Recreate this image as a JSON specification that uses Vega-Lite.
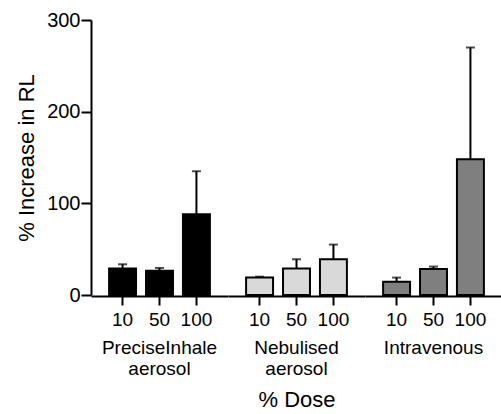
{
  "$schema": "https://vega.github.io/schema/vega-lite/v6.json",
  "padding": {"left": 15, "top": 10, "right": 0, "bottom": 0},
  "background": "white",
  "data": {
    "values": [
      {"group": "PreciseInhale aerosol", "dose": "10", "value": 29, "upper": 33.5},
      {"group": "PreciseInhale aerosol", "dose": "50", "value": 26.5, "upper": 29.5},
      {"group": "PreciseInhale aerosol", "dose": "100", "value": 88, "upper": 135},
      {"group": "Nebulised aerosol", "dose": "10", "value": 19, "upper": 20},
      {"group": "Nebulised aerosol", "dose": "50", "value": 29, "upper": 39},
      {"group": "Nebulised aerosol", "dose": "100", "value": 39, "upper": 55},
      {"group": "Intravenous", "dose": "10", "value": 14.5, "upper": 19},
      {"group": "Intravenous", "dose": "50", "value": 28.5, "upper": 31},
      {"group": "Intravenous", "dose": "100", "value": 148, "upper": 270}
    ]
  },
  "facet": {
    "column": {
      "field": "group",
      "type": "nominal",
      "sort": ["PreciseInhale aerosol", "Nebulised aerosol", "Intravenous"],
      "header": {
        "labelOrient": "bottom",
        "titleOrient": "bottom",
        "title": "% Dose",
        "labelExpr": "split(datum.value, ' ')",
        "labelFont": "Liberation Sans",
        "labelFontSize": 19,
        "labelColor": "black",
        "labelLineHeight": 21,
        "labelPadding": 10,
        "titleFont": "Liberation Sans",
        "titleFontSize": 22,
        "titleFontWeight": "normal",
        "titleColor": "black",
        "titlePadding": 1
      }
    }
  },
  "spacing": 0,
  "spec": {
    "width": 137,
    "height": 275,
    "encoding": {
      "x": {
        "field": "dose",
        "type": "ordinal",
        "sort": ["10", "50", "100"],
        "scale": {"paddingInner": 0.27, "paddingOuter": 0.49},
        "axis": {"title": null, "labelAngle": 0, "labelPadding": 5, "labelFontSize": 19}
      }
    },
    "layer": [
      {
        "mark": {"type": "bar", "stroke": "black", "strokeWidth": 2},
        "encoding": {
          "y": {
            "field": "value",
            "type": "quantitative",
            "scale": {"domain": [0, 300], "nice": false},
            "axis": {"values": [0, 100, 200, 300], "title": "% Increase in RL", "titlePadding": 8, "tickSize": 10, "labelPadding": 1}
          },
          "fill": {
            "field": "group",
            "type": "nominal",
            "scale": {"domain": ["PreciseInhale aerosol", "Nebulised aerosol", "Intravenous"], "range": ["#000000", "#d9d9d9", "#7f7f7f"]},
            "legend": null
          }
        }
      },
      {
        "mark": {"type": "rule", "color": "black", "strokeWidth": 2},
        "encoding": {
          "y": {"field": "value", "type": "quantitative"},
          "y2": {"field": "upper"}
        }
      },
      {
        "mark": {"type": "tick", "color": "black", "thickness": 2, "size": 9, "orient": "horizontal"},
        "encoding": {
          "y": {"field": "upper", "type": "quantitative"}
        }
      }
    ]
  },
  "config": {
    "view": {"stroke": null},
    "axis": {
      "grid": false,
      "domainColor": "black",
      "domainWidth": 2,
      "tickColor": "black",
      "tickWidth": 2,
      "tickSize": 9,
      "labelFont": "Liberation Sans",
      "labelFontSize": 20,
      "labelColor": "black",
      "labelPadding": 2,
      "titleFont": "Liberation Sans",
      "titleFontSize": 22,
      "titleFontWeight": "normal",
      "titleColor": "black"
    }
  }
}
